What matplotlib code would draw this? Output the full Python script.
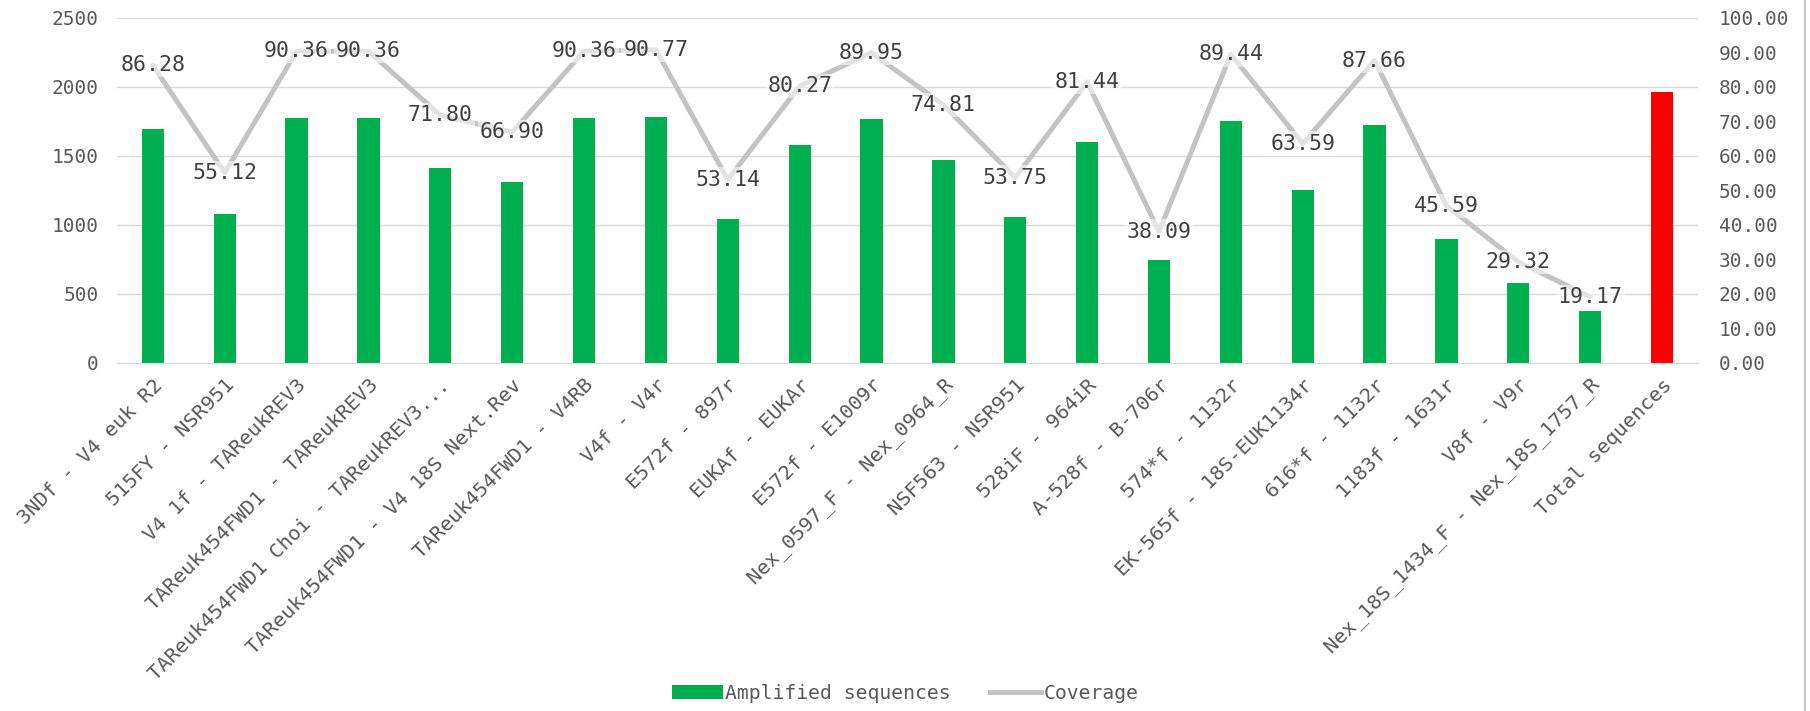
import matplotlib
matplotlib.use("Agg")
import matplotlib.pyplot as plt
from matplotlib.patches import Patch
from matplotlib.lines import Line2D
from matplotlib.ticker import FuncFormatter, MultipleLocator

plt.rcParams['font.family'] = ['DejaVu Sans Mono', 'DejaVu Sans']

categories = [
    "3NDf - V4 euk R2",
    "515FY - NSR951",
    "V4 1f - TAReukREV3",
    "TAReuk454FWD1 - TAReukREV3",
    "TAReuk454FWD1 Choi - TAReukREV3...",
    "TAReuk454FWD1 - V4 18S Next.Rev",
    "TAReuk454FWD1 - V4RB",
    "V4f - V4r",
    "E572f - 897r",
    "EUKAf - EUKAr",
    "E572f - E1009r",
    "Nex_0597_F - Nex_0964_R",
    "NSF563 - NSR951",
    "528iF - 964iR",
    "A-528f - B-706r",
    "574*f - 1132r",
    "EK-565f - 18S-EUK1134r",
    "616*f - 1132r",
    "1183f - 1631r",
    "V8f - V9r",
    "Nex_18S_1434_F - Nex_18S_1757_R",
    "Total sequences",
]

amplified = [1695, 1083, 1775, 1775, 1411, 1315, 1775, 1784, 1044, 1577,
             1768, 1470, 1056, 1600, 748, 1757, 1250, 1722, 896, 576, 377,
             1965]

coverage = [86.28, 55.12, 90.36, 90.36, 71.80, 66.90, 90.36, 90.77, 53.14,
            80.27, 89.95, 74.81, 53.75, 81.44, 38.09, 89.44, 63.59, 87.66,
            45.59, 29.32, 19.17]

GREEN = "#00B050"
RED = "#FF0000"
LINE_GREY = "#C3C3C3"
GRID_GREY = "#D9D9D9"
TICK_GREY = "#595959"
LABEL_GREY = "#404040"

fig = plt.figure(figsize=(18.10, 7.11), dpi=100)
ax = fig.add_axes([0.0646, 0.4895, 0.8735, 0.4852])
ax2 = ax.twinx()

x = list(range(len(categories)))
colors = [GREEN] * (len(categories) - 1) + [RED]
ax.bar(x, amplified, width=0.31, color=colors, zorder=2)

ax.set_xlim(-0.5, len(categories) - 0.5)
ax.set_ylim(0, 2500)
ax.yaxis.set_major_locator(MultipleLocator(500))
ax.grid(axis='y', color=GRID_GREY, linewidth=1.0, zorder=0)
ax.set_axisbelow(True)
for s in ax.spines.values():
    s.set_visible(False)
ax.spines['bottom'].set_visible(True)
ax.spines['bottom'].set_color(GRID_GREY)
ax.tick_params(axis='both', length=0, colors=TICK_GREY, labelsize=14)
ax.tick_params(axis='y', pad=13)
ax.set_xticks(x)
ax.set_xticklabels(categories, rotation=45, ha='right', rotation_mode='anchor',
                   fontsize=14.7, color=TICK_GREY)
ax.tick_params(axis='x', pad=9)

# Secondary axis: coverage (%)
ax2.set_ylim(0, 100)
ax2.yaxis.set_major_locator(MultipleLocator(10))
ax2.yaxis.set_major_formatter(FuncFormatter(lambda v, p: f"{v:.2f}"))
ax2.tick_params(axis='y', length=0, colors=TICK_GREY, labelsize=14, pad=15)
for s in ax2.spines.values():
    s.set_visible(False)

ax2.plot(range(len(coverage)), coverage, color=LINE_GREY, linewidth=3.6,
         solid_joinstyle='round', solid_capstyle='round', zorder=3)

for xi, v in zip(range(len(coverage)), coverage):
    ax2.text(xi, v, f"{v:.2f}", ha='center', va='center', fontsize=15.5,
             color=LABEL_GREY, zorder=4,
             bbox=dict(boxstyle='square,pad=0.1', facecolor='white',
                       edgecolor='none', alpha=0.55))

handles = [Patch(facecolor=GREEN, edgecolor='none'),
           Line2D([], [], color=LINE_GREY, linewidth=3.6)]
fig.legend(handles, ["Amplified sequences", "Coverage"], loc='center',
           bbox_to_anchor=(0.5, 0.025), ncol=2, frameon=False, fontsize=14.2,
           labelcolor=TICK_GREY, handlelength=2.6, handletextpad=0.1,
           columnspacing=2.0)

fig.add_artist(Line2D([0.9975, 0.9975], [0, 1], transform=fig.transFigure,
                      color="#C8C8C8", linewidth=1.5))

fig.savefig("out.png", dpi=100)
